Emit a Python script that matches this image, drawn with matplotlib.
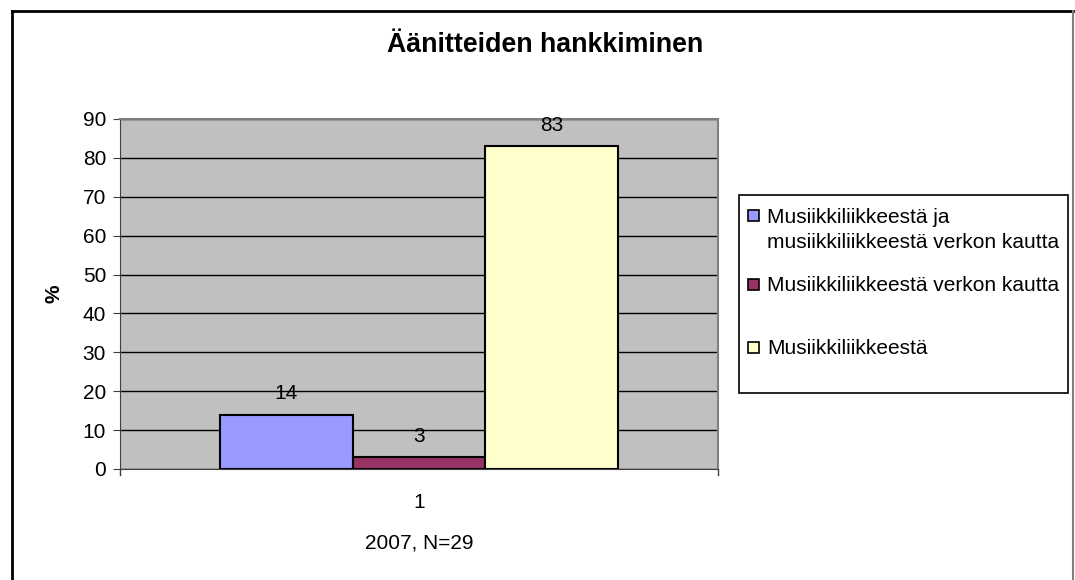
import matplotlib
matplotlib.use("Agg")
import matplotlib.pyplot as plt
from matplotlib.patches import Rectangle
from matplotlib.lines import Line2D

plt.rcParams['font.family'] = ['Liberation Sans', 'DejaVu Sans']

# data
series_labels = ['Musiikkiliikkeestä ja\nmusiikkiliikkeestä verkon kautta',
                 'Musiikkiliikkeestä verkon kautta',
                 'Musiikkiliikkeestä']
values = [14, 3, 83]
colors = ['#9999FF', '#993366', '#FFFFCC']
category = ['1']
yticks = [0, 10, 20, 30, 40, 50, 60, 70, 80, 90]

W, H = 1075, 580
fig = plt.figure(figsize=(W / 100, H / 100), dpi=100)


def fx(px):
    return px / W


def fy(py):
    return 1 - py / H


# outer frame
fig.add_artist(Line2D([fx(12), fx(12)], [0, fy(11)], color='black', lw=2))
fig.add_artist(Line2D([fx(12), fx(1073)], [fy(11), fy(11)], color='black', lw=2))
fig.add_artist(Line2D([fx(1073), fx(1073)], [0, fy(11)], color='#808080', lw=1.5))

ax = fig.add_axes([fx(120), fy(469), fx(598), 350 / H])
ax.set_facecolor('#C0C0C0')

bw = 0.222
offsets = [-bw, 0, bw]
for val, col, off in zip(values, colors, offsets):
    ax.bar(1 + off, val, width=bw, color=col, edgecolor='black', linewidth=1.5, zorder=3)
    ax.annotate(str(val), (1 + off, val), xytext=(0, 8), textcoords='offset points',
                ha='center', va='bottom', fontsize=15, zorder=4)

ax.set_xlim(0.5, 1.5)
ax.set_ylim(0, 90)
ax.set_yticks(yticks)
ax.tick_params(axis='y', labelsize=15, length=5, color='#404040', pad=5)
ax.yaxis.grid(True, color='black', lw=1, zorder=1)
ax.set_xticks([1])
ax.set_xticklabels(category, fontsize=15)
ax.tick_params(axis='x', length=0, pad=17)
# category boundary ticks
for xb in [0.5, 1.5]:
    ax.plot([xb, xb], [0, -1.5], color='#404040', lw=1, clip_on=False)

for side in ['top', 'right']:
    ax.spines[side].set_color('#808080')
    ax.spines[side].set_linewidth(1.5)
ax.spines['left'].set_color('#404040')
ax.spines['bottom'].set_color('#404040')

ax.set_ylabel('%', fontsize=15, fontweight='bold', labelpad=14)
ax.set_xlabel('2007, N=29', fontsize=15, labelpad=16)

fig.text(fx(545), fy(45), 'Äänitteiden hankkiminen', ha='center', va='center',
         fontsize=19.3, fontweight='bold')

# legend drawn by hand to keep Excel-like spacing
fig.add_artist(Rectangle((fx(739), fy(393)), fx(1068 - 739), (393 - 195) / H,
                         facecolor='white', edgecolor='black', lw=1.2))
legend_y = [215, 284, 347]
for lab, col, ly in zip(series_labels, colors, legend_y):
    fig.add_artist(Rectangle((fx(748), fy(ly + 5.5)), fx(11), 11 / H,
                             facecolor=col, edgecolor='black', lw=1.2))
    nlines = lab.count('\n')
    fig.text(fx(767), fy(ly + 7 + 26 * nlines), lab, ha='left', va='baseline',
             fontsize=15, linespacing=1.41)

fig.savefig('out.png', dpi=100)
